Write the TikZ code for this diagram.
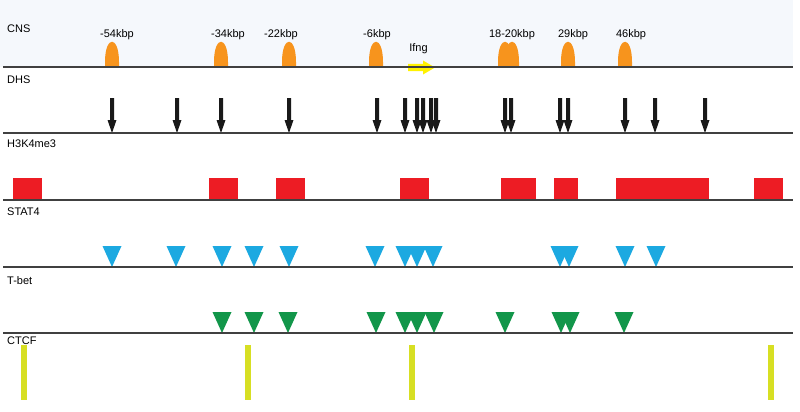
\documentclass[tikz,border=0pt]{standalone}
\usepackage{fontspec}
\setmainfont{Liberation Sans}
\definecolor{cnsorange}{HTML}{F7941D}
\definecolor{ifngyellow}{HTML}{FFF200}
\definecolor{boxred}{HTML}{ED1C24}
\definecolor{statcyan}{HTML}{1CA9E1}
\definecolor{tbetgreen}{HTML}{12964A}
\definecolor{ctcflime}{HTML}{D7DF23}
\definecolor{bgblue}{HTML}{F5F8FC}
\begin{document}
\begin{tikzpicture}[x=1pt,y=-1pt,
  lbl/.style={anchor=base west, inner sep=0pt, font=\fontsize{11}{13}\selectfont},
  kbp/.style={anchor=base, inner sep=0pt, font=\fontsize{11}{13}\selectfont},
  trackline/.style={draw=black!75, line width=1.2pt},
  hump/.style={fill=cnsorange},
  dhsarrow/.style={fill=black!90},
  h3box/.style={fill=boxred},
  stattri/.style={fill=statcyan},
  tbettri/.style={fill=tbetgreen},
  ctcfbar/.style={fill=ctcflime}]
\useasboundingbox (0,0) rectangle (800,412);
\fill[bgblue] (0,0) rectangle (793,67);

% CNS humps
\foreach \x in {112,221,289,376,505,512,568,625}
  \fill[hump] ({\x-7},67) -- ({\x-7},62) .. controls ({\x-7},35) and ({\x+7},35) .. ({\x+7},62) -- ({\x+7},67) -- cycle;

% Ifng arrow
\fill[ifngyellow] (408,64) -- (423,64) -- (423,60.5) -- (435,67.5) -- (423,74.5) -- (423,71) -- (408,71) -- cycle;

% DHS arrows
\foreach \x in {112,177,221,289,377,405,417,423,431,436,505,511,560,568,625,655,705}
  \fill[dhsarrow] ({\x-2},98) -- ({\x+2},98) -- ({\x+2},120) -- ({\x+4.5},120) -- (\x,133) -- ({\x-4.5},120) -- ({\x-2},120) -- cycle;

% H3K4me3 boxes
\foreach \a/\b in {13/42,209/238,276/305,400/429,501/536,554/578,616/709,754/783}
  \fill[h3box] (\a,178) rectangle (\b,200);

% STAT4 triangles
\foreach \x in {112,176,222,254,289,375,405,417,433,560,569,625,656}
  \fill[stattri] ({\x-9.5},246) -- ({\x+9.5},246) -- (\x,267) -- cycle;

% T-bet triangles
\foreach \x in {222,254,288,376,405,417,434,505,561,570,624}
  \fill[tbettri] ({\x-9.5},312) -- ({\x+9.5},312) -- (\x,333) -- cycle;

% CTCF bars
\foreach \x in {24,248,412,771}
  \fill[ctcfbar] ({\x-3},345) rectangle ({\x+3},400);

% track lines
\foreach \y in {67,133,200,267,333}
  \draw[trackline] (3,\y) -- (793,\y);

% track labels
\node[lbl] (cns) at (7,33) {CNS};
\node[lbl] (dhs) at (7,84) {DHS};
\node[lbl] (h3k) at (7,147) {H3K4me3};
\node[lbl] (stat) at (7,215) {STAT4};
\node[lbl] (tbet) at (7,284.5) {T-bet};
\node[lbl] (ctcf) at (7,344.5) {CTCF};

% CNS labels
\node[kbp] (k54) at (117,37.5) {-54kbp};
\node[kbp] (k34) at (228,37.5) {-34kbp};
\node[kbp] (k22) at (281,37.5) {-22kbp};
\node[kbp] (k6) at (377,37.5) {-6kbp};
\node[kbp] (k18) at (512,37.5) {18-20kbp};
\node[kbp] (k29) at (573,37.5) {29kbp};
\node[kbp] (k46) at (631,37.5) {46kbp};
\node[kbp] (ifng) at (418.5,52) {Ifng};
\end{tikzpicture}
\end{document}
